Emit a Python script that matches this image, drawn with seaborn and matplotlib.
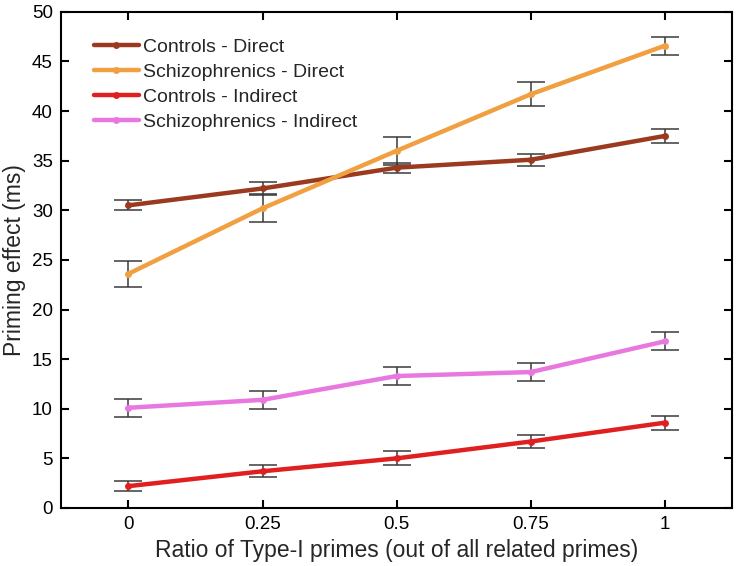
import numpy as np
import pandas as pd
import seaborn as sns
import matplotlib
matplotlib.use('Agg')
import matplotlib.pyplot as plt

# data
ratios = [0, 0.25, 0.5, 0.75, 1]
tick_labels = ['0', '0.25', '0.5', '0.75', '1']
series_names = ['Controls - Direct', 'Schizophrenics - Direct',
                'Controls - Indirect', 'Schizophrenics - Indirect']
controls_direct = [30.5, 32.2, 34.3, 35.1, 37.5]
controls_direct_err = [0.5, 0.7, 0.5, 0.6, 0.7]
schizo_direct = [23.6, 30.2, 36.0, 41.7, 46.6]
schizo_direct_err = [1.3, 1.4, 1.4, 1.2, 0.9]
controls_indirect = [2.2, 3.7, 5.0, 6.7, 8.6]
controls_indirect_err = [0.5, 0.6, 0.7, 0.7, 0.7]
schizo_indirect = [10.1, 10.9, 13.3, 13.7, 16.8]
schizo_indirect_err = [0.9, 0.9, 0.9, 0.9, 0.9]

colors = ['#9b3a1e', '#f0a040', '#e02020', '#e878e0']

sns.set_theme(style='ticks')
plt.rcParams['font.family'] = ['Liberation Sans', 'DejaVu Sans']

fig, ax = plt.subplots(figsize=(7.38, 5.66), dpi=100)

all_means = [controls_direct, schizo_direct, controls_indirect, schizo_indirect]
all_errs = [controls_direct_err, schizo_direct_err, controls_indirect_err, schizo_indirect_err]

rows = []
for name, means in zip(series_names, all_means):
    for r, m in zip(ratios, means):
        rows.append({'ratio': r, 'effect': m, 'group': name})
df = pd.DataFrame(rows)

# error bars first so the lines sit on top
for means, errs in zip(all_means, all_errs):
    ax.errorbar(ratios, means, yerr=errs, fmt='none', ecolor='#3a3a3a',
                elinewidth=1.1, capsize=10, capthick=1.1, zorder=1)

sns.lineplot(data=df, x='ratio', y='effect', hue='group', hue_order=series_names,
             palette=colors, marker='o', markersize=5, markeredgewidth=0,
             linewidth=3.2, ax=ax, zorder=2)

ax.set_xlim(-0.125, 1.125)
ax.set_ylim(0, 50)
ax.set_xticks(ratios)
ax.set_xticklabels(tick_labels)
ax.set_yticks(np.arange(0, 51, 5))
ax.tick_params(direction='in', top=True, right=True, length=6, width=1.5,
               labelsize=13.5, colors='black', pad=6)
for s in ax.spines.values():
    s.set_linewidth(1.5)
    s.set_color('black')

ax.set_xlabel('Ratio of Type-I primes (out of all related primes)', fontsize=16.5, labelpad=4)
ax.set_ylabel('Priming effect (ms)', fontsize=16.5, labelpad=4)

leg = ax.legend(loc='upper left', bbox_to_anchor=(0.037, 0.962), borderaxespad=0,
                frameon=False, fontsize=14, handlelength=2.3,
                handletextpad=0.25, labelspacing=0.38)

plt.subplots_adjust(left=0.083, right=0.992, top=0.979, bottom=0.1025)
fig.savefig('out.png', dpi=100)
